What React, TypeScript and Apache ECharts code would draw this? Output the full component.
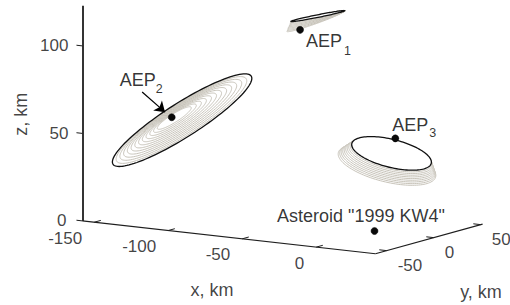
import React, { useEffect, useRef } from "react";
import * as echarts from "echarts";

// ---- data (km) ----
const xLim = [-158, 40];
const yLim = [-62, 52];
const zLim = [0, 123];
const xTicks = [-150, -100, -50, 0];
const yTicks = [-50, 0, 50];
const zTicks = [0, 50, 100];

const pointX = [-63, -137, -5, 0];
const pointY = [20, 0, 30, 0];
const pointZ = [106, 52, 48, 0];
const labelMain = ["AEP", "AEP", "AEP", 'Asteroid "1999 KW4"'];
const labelSub = ["1", "2", "3", ""];

// error ellipse families (center + half-axis vectors, km)
const ellCenter = [[-51, 20, 115], [-130, 0, 51], [-5, 26, 40]];
const ellU = [[18.2, 0, 4.8], [46.7, 0, 29.6], [36.3, -14.9, 0]];
const ellV = [[0.17, 0, -0.72], [6.2, 0, -7.6], [22.0, -38.2, 0]];
const ringCount = [8, 12, 9];
const ringShift = [[-0.17, 0, -0.37], [-0.44, 0, 0.06], [-0.34, 0, -0.75]];
const ringUShift = [[0.17, 0, 0.37], [0, 0, 0], [0, 0, 0]];
const ringScaleU = [0, -0.063, 0.025];
const ringScaleV = [0.12, -0.063, 0.025];

const arrowFrom = [-157, 0, 64.5];
const arrowTo = [-141.5, 0, 54.5];

// ---- view (projection) ----
const ORIGIN = [374.5, 231];
const EX = [1.48, 0.166];
const EY = [0.94, -0.26];
const EZ = [0, -1.75];
function proj(x: number, y: number, z: number): [number, number] {
  return [
    ORIGIN[0] + EX[0] * x + EY[0] * y + EZ[0] * z,
    ORIGIN[1] + EX[1] * x + EY[1] * y + EZ[1] * z,
  ];
}

const FONT = "'Liberation Sans', Arial, Helvetica, sans-serif";
const GRAY = "#c8c4ba";
const AXC = "#1e1e1e";

function buildOption() {
  const N = 120;
  const ells: { pts: [number, number][]; stroke: string; fill: string; lw: number }[] = [];
  const fills = ["#ffffff", "none", "#ffffff"];
  for (const f of [1, 2, 0]) {
    const C = ellCenter[f], U = ellU[f], V = ellV[f];
    for (let i = ringCount[f]; i >= 0; i--) {
      const c = C.map((v, k) => v + i * ringShift[f][k]);
      const su = 1 + i * ringScaleU[f];
      const sv = 1 + i * ringScaleV[f];
      const u = U.map((v, k) => v * su + i * ringUShift[f][k]);
      const w = V.map((v) => v * sv);
      const pts: [number, number][] = [];
      for (let t = 0; t <= N; t++) {
        const a = (2 * Math.PI * t) / N;
        const ca = Math.cos(a), sa = Math.sin(a);
        pts.push(proj(c[0] + ca * u[0] + sa * w[0], c[1] + ca * u[1] + sa * w[1], c[2] + ca * u[2] + sa * w[2]));
      }
      ells.push({
        pts,
        stroke: i === 0 ? "#111" : GRAY,
        fill: fills[f],
        lw: i === 0 ? 1.3 : 1,
      });
    }
  }

  const axisLines: any[] = [
    { coords: [proj(xLim[0], yLim[0], zLim[0]), proj(xLim[0], yLim[0], zLim[1])], lineStyle: { width: 1.8 } },
    { coords: [proj(xLim[0], yLim[0], 0), proj(xLim[1], yLim[0], 0)], lineStyle: { width: 1.2 } },
    { coords: [proj(xLim[1], yLim[0], 0), proj(xLim[1], yLim[1], 0)], lineStyle: { width: 1.2 } },
  ];
  xTicks.forEach((t) => axisLines.push({ coords: [proj(t, yLim[0], 0), proj(t, yLim[0] + 7, 0)], lineStyle: { width: 1 } }));
  yTicks.forEach((t) => axisLines.push({ coords: [proj(xLim[1], t, 0), proj(xLim[1] - 5, t, 0)], lineStyle: { width: 1 } }));
  zTicks.forEach((t) => axisLines.push({ coords: [proj(xLim[0], yLim[0], t), proj(xLim[0] - 4, yLim[0], t)], lineStyle: { width: 1 } }));

  const tickText = (v: [number, number], text: string, dx: number, dy: number, align: string) => ({
    value: v,
    label: { show: true, position: "inside", formatter: text, offset: [dx, dy], align, verticalAlign: "middle" },
  });
  const tickLabels: any[] = [];
  xTicks.forEach((t) => tickLabels.push(tickText(proj(t, yLim[0], 0), String(t), -12, 16, "right")));
  yTicks.forEach((t) => tickLabels.push(tickText(proj(xLim[1], t, 0), String(t), 11, 15, "left")));
  zTicks.forEach((t) => tickLabels.push(tickText(proj(xLim[0], yLim[0], t), String(t), t === 0 ? -16 : -14, 0, "right")));

  const xMid = (xLim[0] + xLim[1]) / 2;
  const yMid = (yLim[0] + yLim[1]) / 2;
  const zMid = (zLim[0] + zLim[1]) / 2;
  const titles: any[] = [
    { value: proj(xMid, yLim[0], 0), label: { show: true, position: "inside", formatter: "x, km", offset: [-17, 53], align: "center", verticalAlign: "middle" } },
    { value: proj(xLim[1], yMid, 0), label: { show: true, position: "inside", formatter: "y, km", offset: [52, 53], align: "center", verticalAlign: "middle" } },
    { value: proj(xLim[0], yLim[0], zMid), label: { show: true, position: "inside", formatter: "z, km", offset: [-1, -61], align: "center", verticalAlign: "middle", rotate: 90 } },
  ];

  const pts = pointX.map((x, i) => proj(x, pointY[i], pointZ[i]));
  const mainOff = [[6, 11.5], [-52, -37.5], [-3, -13.5], [-13.5, -15]];
  const mainAlign = ["left", "left", "left", "center"];
  const subOff = [[44, 21.5], [-16, -28], [34, -5], [0, 0]];
  const mainLabels = pts.map((p, i) => ({
    value: p,
    label: { show: true, position: "inside", formatter: labelMain[i], offset: mainOff[i], align: mainAlign[i], verticalAlign: "middle" },
  }));
  const subLabels = pts.map((p, i) => ({
    value: p,
    label: { show: labelSub[i] !== "", position: "inside", formatter: labelSub[i], offset: subOff[i], align: "left", verticalAlign: "middle" },
  }));

  return {
    animation: false,
    grid: { left: 0, right: 0, top: 0, bottom: 0 },
    xAxis: { type: "value", min: 0, max: 510, show: false },
    yAxis: { type: "value", min: 0, max: 305, inverse: true, show: false },
    series: [
      {
        type: "custom",
        coordinateSystem: "cartesian2d",
        silent: true,
        z: 2,
        data: ells.map(() => [0, 0]),
        renderItem: (params: any, api: any) => {
          const e = ells[params.dataIndex];
          return {
            type: "polygon",
            shape: { points: e.pts.map((p) => api.coord(p)) },
            style: { fill: e.fill, stroke: e.stroke, lineWidth: e.lw },
          };
        },
      },
      {
        type: "lines",
        coordinateSystem: "cartesian2d",
        silent: true,
        z: 3,
        lineStyle: { color: AXC, opacity: 1 },
        data: axisLines,
      },
      {
        type: "lines",
        coordinateSystem: "cartesian2d",
        silent: true,
        z: 4,
        symbol: ["none", "arrow"],
        symbolSize: 10,
        lineStyle: { color: "#000", width: 1.2, opacity: 1 },
        data: [{ coords: [proj(arrowFrom[0], arrowFrom[1], arrowFrom[2]), proj(arrowTo[0], arrowTo[1], arrowTo[2])] }],
      },
      {
        type: "scatter",
        silent: true,
        z: 5,
        symbol: "circle",
        symbolSize: 7,
        itemStyle: { color: "#0a0a0a", borderColor: "#000", borderWidth: 0.5, opacity: 1 },
        data: pts,
      },
      {
        type: "scatter",
        silent: true,
        z: 6,
        symbolSize: 0,
        label: { color: "#111", fontFamily: FONT, fontSize: 17 },
        data: tickLabels,
      },
      {
        type: "scatter",
        silent: true,
        z: 6,
        symbolSize: 0,
        label: { color: "#111", fontFamily: FONT, fontSize: 18 },
        data: titles,
      },
      {
        type: "scatter",
        silent: true,
        z: 6,
        symbolSize: 0,
        label: { color: "#000", fontFamily: FONT, fontSize: 18 },
        data: mainLabels,
      },
      {
        type: "scatter",
        silent: true,
        z: 6,
        symbolSize: 0,
        label: { color: "#000", fontFamily: FONT, fontSize: 12.5 },
        data: subLabels,
      },
    ],
  };
}

export default function App() {
  const ref = useRef<HTMLDivElement>(null);
  useEffect(() => {
    if (!ref.current) return;
    const chart = echarts.init(ref.current, null, { renderer: "svg" });
    chart.setOption(buildOption() as any);
    return () => chart.dispose();
  }, []);
  return (
    <div
      ref={ref}
      style={{ position: "absolute", left: 0, top: 0, width: 510, height: 305, background: "#fff" }}
    />
  );
}
